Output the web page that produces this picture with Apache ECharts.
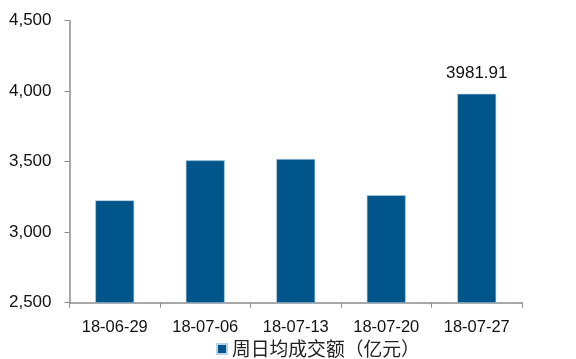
<!DOCTYPE html>
<html>
<head>
<meta charset="utf-8">
<script src="https://cdn.jsdelivr.net/npm/echarts@6/dist/echarts.min.js"></script>
<style>
html,body{margin:0;padding:0;background:#fff;}
#chart{width:576px;height:359px;}
</style>
</head>
<body>
<div id="chart"></div>
<script>
// Weekly average daily turnover (100 million yuan)
const categories = ['18-06-29', '18-07-06', '18-07-13', '18-07-20', '18-07-27'];
const turnover = [3226, 3510, 3519, 3262, 3981.91];
const seriesName = '周日均成交额（亿元）';
const yTicks = { min: 2500, max: 4500, interval: 500 };

const chart = echarts.init(document.getElementById('chart'), null, { renderer: 'canvas' });
const latin = 'Liberation Sans, Arial, sans-serif';
chart.setOption({
  animation: false,
  grid: { left: 69.5, right: 54, top: 20.7, bottom: 56.3 },
  legend: {
    data: [seriesName],
    top: 339,
    left: 216,
    padding: 0,
    itemWidth: 10,
    itemHeight: 10,
    itemGap: 4,
    icon: 'rect',
    textStyle: { fontFamily: 'Noto Sans CJK SC', fontSize: 18.8, lineHeight: 20, color: '#222', padding: [0, 0, 0, 0] }
  },
  xAxis: {
    type: 'category',
    data: categories,
    axisLine: { lineStyle: { color: '#8c8c8c', width: 1.5 } },
    axisTick: { show: true, length: 5, lineStyle: { color: '#8c8c8c' } },
    axisLabel: { color: '#111', fontFamily: latin, fontSize: 16.5, margin: 16 }
  },
  yAxis: {
    type: 'value',
    min: yTicks.min,
    max: yTicks.max,
    interval: yTicks.interval,
    splitLine: { show: false },
    axisLine: { show: true, lineStyle: { color: '#8c8c8c', width: 1.5 } },
    axisTick: { show: true, length: 5, lineStyle: { color: '#8c8c8c' } },
    axisLabel: {
      color: '#111', fontFamily: latin, fontSize: 17, margin: 18,
      formatter: v => v.toLocaleString('en-US')
    }
  },
  series: [{
    name: seriesName,
    type: 'bar',
    data: turnover.map((v, i) => i === turnover.length - 1
      ? { value: v, label: { show: true } }
      : v),
    barWidth: '43%',
    itemStyle: { color: '#00558a', borderColor: '#b9d3e6', borderWidth: 0.6 },
    label: {
      show: false,
      position: 'top',
      distance: 12,
      color: '#111',
      fontFamily: latin,
      fontSize: 17,
      formatter: p => p.value.toFixed(2)
    }
  }]
});
</script>
</body>
</html>
